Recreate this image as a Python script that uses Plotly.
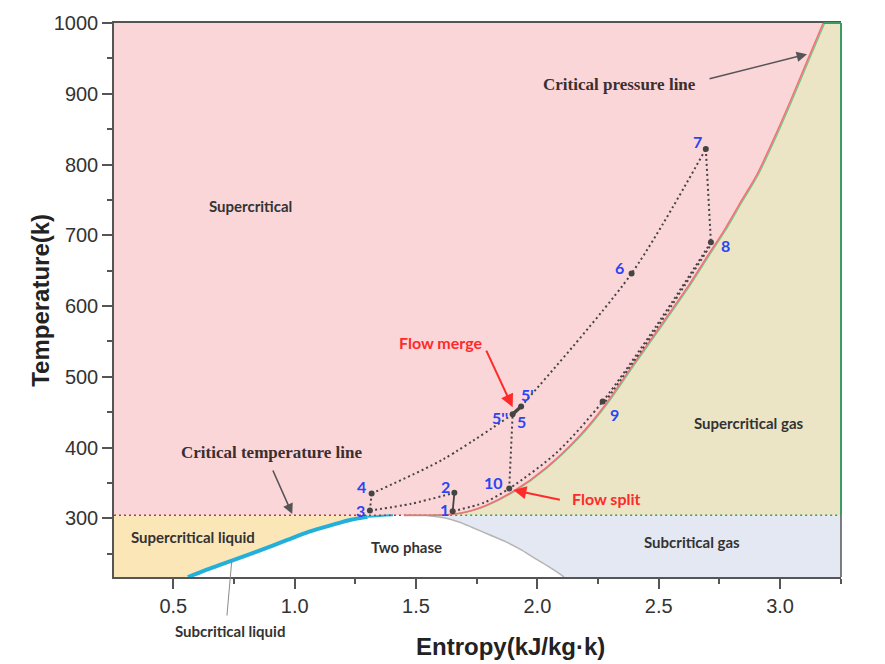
import plotly.graph_objects as go

# ---------------------------------------------------------------- data
T_CRIT = 304.1                      # critical temperature of CO2 (K)
S_RANGE = [0.2556, 3.251]           # entropy axis (kJ/kg·K)
T_RANGE = [217, 1000]               # temperature axis (K)

# critical-pressure isobar (7.38 MPa)
cp_s = [1.45, 1.55, 1.637, 1.706, 1.788, 1.905, 2.034, 2.172, 2.283, 2.40,
        2.489, 2.626, 2.705, 2.767, 2.835, 2.904, 2.972, 3.041, 3.110, 3.178]
cp_T = [304.1, 304.3, 305.3, 309, 318, 339, 371, 416, 462, 520,
        563, 630.5, 672.8, 705.6, 745.5, 785.5, 834.8, 888.7, 945, 1000]

# saturated-liquid branch of the dome
liq_s = [0.56, 0.65, 0.747, 0.86, 0.967, 1.06, 1.159, 1.228, 1.30, 1.36, 1.405]
liq_T = [217, 229, 241, 255, 269, 281, 291, 297.5, 302, 303.6, 304.1]

# saturated-vapour branch of the dome
vap_s = [1.45, 1.55, 1.62, 1.68, 1.732, 1.80, 1.871, 1.93, 1.98, 2.04, 2.098, 2.11]
vap_T = [304.1, 303.6, 300.5, 294.5, 287, 277, 266.6, 256, 245.5, 233, 220, 217]

# cycle state points
state_names = ["1", "2", "3", "4", "5", "5'", "6", "7", "8", "9", "10"]
state_s = [1.651, 1.658, 1.31, 1.317, 1.898, 1.933, 2.388, 2.694, 2.715, 2.269, 1.884]
state_T = [310, 336, 311, 335, 447, 458, 646, 822, 690, 465, 342]

# process paths (dotted)
path_3_4 = ([1.31, 1.317], [311, 335])
path_3_2 = ([1.31, 1.48, 1.658], [311, 320.5, 336])
path_4_5 = ([1.317, 1.61, 1.898], [335, 383, 447])
path_5_7 = ([1.933, 2.388, 2.694], [458, 646, 822])
path_7_8 = ([2.694, 2.715], [822, 690])
path_8_1 = ([2.715, 2.49, 2.269, 2.08, 1.884, 1.78, 1.651],
            [690, 572, 465, 393, 342, 322, 310])
path_9_8 = ([2.28, 2.49, 2.71], [465, 568, 684])
path_10_5 = ([1.884, 1.898], [342, 447])
# process paths (solid)
path_1_2 = ([1.651, 1.658], [310, 336])
path_5_5p = ([1.898, 1.933], [447, 458])

# ---------------------------------------------------------------- styles
PINK = "#fbd6d8"
TAN = "#ebe5c6"
PEACH = "#fbe6b8"
BLUEGREY = "#e3e8f3"
GREEN = "#3c9a62"
RED_LINE = "#f07272"
CYCLE = "#444444"
BLUE = "#2a45f5"
ARROW_GREY = "#555555"
DOT = "2px,3px"

s0, s1 = S_RANGE
t0, t1 = T_RANGE

fig = go.Figure()


def region(xs, ys, color):
    fig.add_trace(go.Scatter(x=xs, y=ys, fill="toself", fillcolor=color,
                             mode="lines", line=dict(width=0),
                             hoverinfo="skip", showlegend=False))


# supercritical region (left of the isobar, above Tc)
region([s0, s0] + cp_s[::-1] + [s0],
       [T_CRIT, t1] + cp_T[::-1] + [T_CRIT], PINK)
# supercritical gas (right of the isobar)
region(cp_s + [s1, s1, cp_s[0]], cp_T + [t1, T_CRIT, T_CRIT], TAN)
# supercritical liquid (left of the liquid line, below Tc)
region([s0, s0] + liq_s[::-1] + [s0],
       [t0, T_CRIT] + liq_T[::-1] + [t0], PEACH)
# subcritical gas (right of the vapour line, below Tc)
region(vap_s + [s1, s1, vap_s[0]], vap_T + [t0, T_CRIT, T_CRIT], BLUEGREY)


def line(xs, ys, color, width, dash=None, shape="linear"):
    fig.add_trace(go.Scatter(x=xs, y=ys, mode="lines",
                             line=dict(color=color, width=width, dash=dash,
                                       shape=shape, smoothing=0.8),
                             hoverinfo="skip", showlegend=False))


# dome boundaries
line(vap_s, vap_T, "#b5b5b5", 1.5, shape="spline")
line(liq_s[:9], liq_T[:9], "#22b0da", 4, shape="spline")
line(liq_s[8:], liq_T[8:], "#22b0da", 2, shape="spline")

# critical temperature line
line([s0, 1.62], [T_CRIT, T_CRIT], "#a8403c", 1.5, dash=DOT)
line([1.62, s1], [T_CRIT, T_CRIT], GREEN, 1.5, dash=DOT)

# critical pressure line with the supercritical-gas boundary beside it
line([s + 0.006 for s in cp_s], cp_T, "#6cc48e", 1.2, shape="spline")
line(cp_s, cp_T, RED_LINE, 1.6, shape="spline")

# cycle processes
for xs, ys in [path_3_4, path_7_8, path_10_5]:
    line(xs, ys, CYCLE, 2, dash=DOT)
for xs, ys in [path_3_2, path_4_5, path_5_7, path_8_1, path_9_8]:
    line(xs, ys, CYCLE, 2, dash=DOT, shape="spline")
line(*path_1_2, CYCLE, 1.8)
line(*path_5_5p, CYCLE, 3.5)

fig.add_trace(go.Scatter(x=state_s, y=state_T, mode="markers",
                         marker=dict(color=CYCLE, size=6),
                         hoverinfo="skip", showlegend=False))

# ---------------------------------------------------------------- labels
state_label_shift = {
    "1": (-8, 2), "2": (-9, 6), "3": (-9, 0), "4": (-10, 7),
    "5": (9, -7), "5'": (6, 12), "6": (-12, 6), "7": (-8, 7),
    "8": (15, -3), "9": (12, -13), "10": (-16, 6),
}
label_font = dict(family="Lato", size=16, color=BLUE, weight="bold")
for name, s, T in zip(state_names, state_s, state_T):
    dx, dy = state_label_shift[name]
    fig.add_annotation(x=s, y=T, text=name, showarrow=False,
                       xshift=dx, yshift=dy, font=label_font)
# 5'' shares its location with state 5
fig.add_annotation(x=state_s[4], y=state_T[4], text="5''", showarrow=False,
                   xshift=-13, yshift=-3, font=label_font)

region_font = dict(family="Lato", size=15, color="#333333", weight="bold")
for text, s, T in [("Supercritical", 0.816, 741),
                   ("Supercritical gas", 2.871, 434),
                   ("Subcritical gas", 2.637, 266),
                   ("Two phase", 1.462, 259),
                   ("Supercritical liquid", 0.581, 273)]:
    fig.add_annotation(x=s, y=T, text=text, showarrow=False, font=region_font)
# this one sits below the axis, so it is placed in paper units
fig.add_annotation(xref="paper", yref="paper", x=0.1596, y=-0.097,
                   xanchor="center", yanchor="middle",
                   text="Subcritical liquid", showarrow=False, font=region_font)

serif_font = dict(family="Liberation Serif", size=17, color="#3b2f2f", weight="bold")
fig.add_annotation(x=0.903, y=393, text="Critical temperature line",
                   showarrow=False, font=serif_font)
fig.add_annotation(x=2.34, y=913, text="Critical pressure line",
                   showarrow=False, font=serif_font)

red_font = dict(family="Lato", size=16, color="#ff2a2a", weight="bold")
fig.add_annotation(x=1.599, y=548, text="Flow merge", showarrow=False, font=red_font)
fig.add_annotation(x=2.286, y=328, text="Flow split", showarrow=False, font=red_font)


def arrow(s, T, ax, ay, color, head=2, width=1.6):
    fig.add_annotation(x=s, y=T, text="", showarrow=True, ax=ax, ay=ay,
                       axref="pixel", ayref="pixel", arrowhead=head,
                       arrowsize=1.3, arrowwidth=width, arrowcolor=color)


arrow(0.99, 306, -20, -45, ARROW_GREY)
arrow(3.111, 956, -99, 25, ARROW_GREY)
arrow(1.898, 457, -27, -58, "#ff2a2a", width=2)
arrow(1.901, 340, 48, 10, "#ff2a2a", width=2)
arrow(0.741, 241, -5, 57, "#8a8a8a", head=0, width=1)

# ---------------------------------------------------------------- frame
tc_frac = (T_CRIT - t0) / (t1 - t0)
top_frac = (cp_s[-1] - s0) / (s1 - s0)
fig.add_shape(type="line", xref="paper", yref="paper", x0=1, x1=1, y0=0, y1=tc_frac,
              line=dict(color="#555555", width=1.5))
fig.add_shape(type="line", xref="paper", yref="paper", x0=1, x1=1, y0=tc_frac, y1=1,
              line=dict(color=GREEN, width=2))
fig.add_shape(type="line", xref="paper", yref="paper", x0=top_frac, x1=1, y0=1, y1=1,
              line=dict(color=GREEN, width=2))

tick_font = dict(family="Liberation Sans", size=20, color="#333333")
fig.update_xaxes(range=S_RANGE, tickvals=[0.5, 1.0, 1.5, 2.0, 2.5, 3.0],
                 ticktext=["0.5", "1.0", "1.5", "2.0", "2.5", "3.0"],
                 ticks="outside", ticklen=10, tickwidth=1.5, tickcolor="#555555",
                 minor=dict(dtick=0.25, tick0=0.25, ticks="outside", ticklen=5,
                            tickwidth=1.5, tickcolor="#555555"),
                 showline=True, linecolor="#555555", linewidth=1.5, mirror=True,
                 showgrid=False, zeroline=False, tickfont=tick_font)
fig.update_yaxes(range=T_RANGE, tickvals=[300, 400, 500, 600, 700, 800, 900, 1000],
                 ticks="outside", ticklen=10, tickwidth=1.5, tickcolor="#555555",
                 minor=dict(dtick=50, tick0=0, ticks="outside", ticklen=5,
                            tickwidth=1.5, tickcolor="#555555"),
                 showline=True, linecolor="#555555", linewidth=1.5, mirror=False,
                 showgrid=False, zeroline=False, tickfont=tick_font)

title_font = dict(family="Liberation Sans", size=24, color="#222222", weight="bold")
fig.add_annotation(xref="paper", yref="paper", x=0.545, y=-0.126,
                   xanchor="center", yanchor="middle",
                   text="Entropy(kJ/kg·k)", showarrow=False, font=title_font)
fig.add_annotation(xref="paper", yref="paper", x=-0.102, y=0.5, textangle=-90,
                   xanchor="center", yanchor="middle",
                   text="Temperature(k)", showarrow=False, font=title_font)

fig.update_layout(width=885, height=664,
                  margin=dict(l=114, r=44, t=21, b=87),
                  paper_bgcolor="white", plot_bgcolor="white",
                  showlegend=False)

fig.write_html("out.html")
